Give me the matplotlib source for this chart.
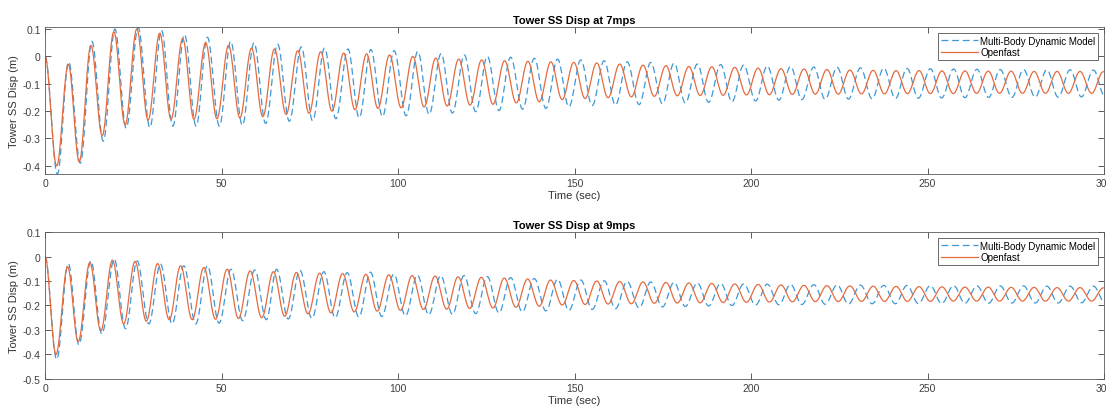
import numpy as np
import matplotlib
matplotlib.use('Agg')
import matplotlib.pyplot as plt

plt.rcParams['font.family'] = ['Liberation Sans', 'DejaVu Sans']

# ---- data: extrema (time s, displacement m) of each trace ----
# 7 mps, Openfast
of7_trough_t = [3.3, 9.7, 16.2, 22.7, 29.2, 35.7, 42.2, 48.7, 55.2, 61.7, 68.3, 74.8, 81.3, 87.8, 94.3, 100.9,
                107.4, 113.9, 120.4, 126.9, 133.5, 140.0, 146.5, 153.0, 159.5, 166.1, 172.6, 179.1, 185.6, 192.1,
                198.7, 205.2, 211.7, 218.2, 224.7, 231.3, 237.8, 244.3, 250.8, 257.3, 263.9, 270.4, 276.9, 283.4,
                289.9, 296.5]
of7_trough_v = [-0.400, -0.385, -0.290, -0.250, -0.233, -0.230, -0.230, -0.228, -0.225, -0.220, -0.212, -0.208,
                -0.200, -0.195, -0.190, -0.188, -0.185, -0.181, -0.178, -0.175, -0.170, -0.166, -0.158, -0.154,
                -0.151, -0.148, -0.146, -0.144, -0.143, -0.142, -0.141, -0.140, -0.139, -0.138, -0.138, -0.137,
                -0.137, -0.136, -0.136, -0.136, -0.135, -0.135, -0.135, -0.135, -0.135, -0.135]
of7_peak_t = [6.6, 13.0, 19.5, 26.0, 32.5, 39.0, 45.5, 52.0, 58.5, 65.0, 71.6, 78.1, 84.6, 91.1, 97.6, 104.2,
              110.7, 117.2, 123.7, 130.2, 136.8, 143.3, 149.8, 156.3, 162.8, 169.4, 175.9, 182.4, 188.9, 195.4,
              202.0, 208.5, 215.0, 221.5, 228.0, 234.6, 241.1, 247.6, 254.1, 260.6, 267.2, 273.7, 280.2, 286.7,
              293.2, 299.8]
of7_peak_v = [-0.030, 0.040, 0.090, 0.100, 0.085, 0.065, 0.050, 0.040, 0.030, 0.027, 0.021, 0.017, 0.012, 0.009,
              0.005, 0.000, -0.006, -0.010, -0.013, -0.016, -0.018, -0.020, -0.022, -0.024, -0.028, -0.032,
              -0.034, -0.037, -0.038, -0.040, -0.043, -0.045, -0.046, -0.048, -0.050, -0.051, -0.052, -0.052,
              -0.053, -0.053, -0.054, -0.054, -0.055, -0.055, -0.055, -0.056]

# 7 mps, Multi-Body Dynamic Model
mb7_trough_t = [3.5, 10.0, 16.5, 23.0, 29.7, 36.2, 42.8, 49.4, 55.9, 62.5, 69.2, 75.8, 82.4, 89.0, 95.6, 102.3,
                108.8, 115.4, 122.0, 128.6, 135.3, 141.9, 148.4, 155.0, 161.6, 168.3, 174.9, 181.4, 188.0, 194.6,
                201.3, 207.9, 214.4, 221.0, 227.6, 234.3, 240.9, 247.4, 254.0, 260.6, 267.3, 273.9, 280.5, 287.0,
                293.6, 300.3]
mb7_trough_v = [-0.430, -0.390, -0.310, -0.262, -0.260, -0.255, -0.255, -0.255, -0.252, -0.245, -0.237, -0.235,
                -0.228, -0.224, -0.220, -0.217, -0.212, -0.207, -0.202, -0.198, -0.193, -0.190, -0.184, -0.180,
                -0.178, -0.176, -0.173, -0.170, -0.168, -0.166, -0.163, -0.160, -0.158, -0.157, -0.156, -0.155,
                -0.154, -0.153, -0.152, -0.151, -0.150, -0.150, -0.149, -0.149, -0.148, -0.148]
mb7_peak_t = [6.7, 13.3, 19.8, 26.4, 33.0, 39.5, 46.0, 52.6, 59.2, 65.9, 72.6, 79.2, 85.8, 92.3, 98.9, 105.6,
              112.2, 118.8, 125.3, 131.9, 138.6, 145.2, 151.8, 158.4, 164.9, 171.6, 178.2, 184.8, 191.4, 197.9,
              204.6, 211.2, 217.8, 224.4, 231.0, 237.6, 244.2, 250.8, 257.4, 264.0, 270.6, 277.2, 283.8, 290.4,
              297.0, 303.6]
mb7_peak_v = [-0.020, 0.055, 0.100, 0.105, 0.095, 0.080, 0.070, 0.055, 0.050, 0.045, 0.035, 0.030, 0.027, 0.025,
              0.021, 0.018, 0.010, 0.005, 0.000, -0.003, -0.007, -0.010, -0.013, -0.016, -0.020, -0.022, -0.025,
              -0.028, -0.030, -0.032, -0.035, -0.037, -0.039, -0.040, -0.042, -0.043, -0.044, -0.045, -0.046,
              -0.047, -0.048, -0.048, -0.049, -0.049, -0.050, -0.050]

# 9 mps, Openfast
of9_trough_t = [3.1, 9.4, 15.8, 22.3, 28.7, 35.2, 41.7, 48.3, 54.8, 61.4, 67.9, 74.5, 81.0, 87.6, 94.1, 100.7,
                107.2, 113.8, 120.3, 126.9, 133.4, 140.0, 146.5, 153.0, 159.5, 166.1, 172.6, 179.1, 185.6, 192.1,
                198.7, 205.2, 211.7, 218.2, 224.7, 231.3, 237.8, 244.3, 250.8, 257.3, 263.9, 270.4, 276.9, 283.4,
                289.9, 296.5]
of9_trough_v = [-0.400, -0.347, -0.303, -0.275, -0.264, -0.258, -0.258, -0.256, -0.253, -0.250, -0.244, -0.234,
                -0.230, -0.226, -0.223, -0.220, -0.216, -0.215, -0.212, -0.210, -0.207, -0.203, -0.198, -0.196,
                -0.194, -0.193, -0.191, -0.190, -0.189, -0.188, -0.187, -0.186, -0.185, -0.184, -0.184, -0.183,
                -0.183, -0.183, -0.183, -0.182, -0.182, -0.182, -0.182, -0.182, -0.182, -0.182]
of9_peak_t = [6.4, 12.7, 19.1, 25.5, 31.9, 38.4, 45.0, 51.6, 58.1, 64.7, 71.2, 77.8, 84.3, 90.9, 97.4, 104.0,
              110.5, 117.0, 123.6, 130.1, 136.7, 143.2, 149.8, 156.3, 162.8, 169.4, 175.9, 182.4, 188.9, 195.4,
              202.0, 208.5, 215.0, 221.5, 228.0, 234.6, 241.1, 247.6, 254.1, 260.6, 267.2, 273.7, 280.2, 286.7,
              293.2, 299.8]
of9_peak_v = [-0.042, -0.025, -0.015, -0.020, -0.029, -0.038, -0.045, -0.052, -0.059, -0.062, -0.065, -0.068,
              -0.070, -0.073, -0.075, -0.078, -0.080, -0.083, -0.085, -0.088, -0.092, -0.096, -0.098, -0.100,
              -0.102, -0.104, -0.106, -0.108, -0.110, -0.112, -0.114, -0.116, -0.118, -0.119, -0.120, -0.121,
              -0.122, -0.123, -0.124, -0.125, -0.125, -0.126, -0.126, -0.127, -0.127, -0.128]

# 9 mps, Multi-Body Dynamic Model
mb9_trough_t = [3.3, 9.6, 16.1, 22.8, 29.4, 36.0, 42.7, 49.3, 56.0, 62.7, 68.9, 75.6, 82.2, 88.9, 95.4, 102.1,
                108.7, 115.4, 122.0, 128.6, 135.2, 141.9, 148.4, 155.0, 161.6, 168.3, 174.9, 181.4, 188.0, 194.6,
                201.3, 207.9, 214.4, 221.0, 227.6, 234.3, 240.9, 247.4, 254.0, 260.6, 267.3, 273.9, 280.5, 287.0,
                293.6, 300.3]
mb9_trough_v = [-0.420, -0.360, -0.316, -0.295, -0.275, -0.275, -0.275, -0.272, -0.262, -0.258, -0.255, -0.252,
                -0.250, -0.247, -0.245, -0.242, -0.238, -0.236, -0.233, -0.230, -0.226, -0.222, -0.220, -0.216,
                -0.213, -0.210, -0.206, -0.204, -0.202, -0.200, -0.198, -0.197, -0.196, -0.195, -0.194, -0.193,
                -0.193, -0.192, -0.192, -0.191, -0.191, -0.190, -0.190, -0.190, -0.189, -0.189]
mb9_peak_t = [6.6, 13.0, 19.6, 26.1, 32.7, 39.3, 46.0, 52.7, 59.4, 65.6, 72.2, 79.0, 85.6, 92.2, 98.8, 105.5,
              112.1, 118.7, 125.3, 131.9, 138.6, 145.2, 151.8, 158.4, 164.9, 171.6, 178.2, 184.8, 191.4, 197.9,
              204.6, 211.2, 217.8, 224.4, 231.0, 237.6, 244.2, 250.8, 257.4, 264.0, 270.6, 277.2, 283.8, 290.4,
              297.0, 303.6]
mb9_peak_v = [-0.029, -0.018, -0.011, -0.018, -0.031, -0.038, -0.038, -0.052, -0.055, -0.052, -0.056, -0.062,
              -0.066, -0.064, -0.072, -0.076, -0.078, -0.078, -0.082, -0.086, -0.090, -0.093, -0.096, -0.099,
              -0.102, -0.104, -0.106, -0.108, -0.110, -0.112, -0.113, -0.114, -0.115, -0.116, -0.117, -0.118,
              -0.118, -0.119, -0.119, -0.120, -0.120, -0.120, -0.121, -0.121, -0.121, -0.121]

titles = ['Tower SS Disp at 7mps', 'Tower SS Disp at 9mps']
ylims = [(-0.43, 0.107), (-0.5, 0.1)]
yticks = [[-0.4, -0.3, -0.2, -0.1, 0, 0.1], [-0.5, -0.4, -0.3, -0.2, -0.1, 0, 0.1]]
ytick_labels = [['-0.4', '-0.3', '-0.2', '-0.1', '0', '0.1'], ['-0.5', '-0.4', '-0.3', '-0.2', '-0.1', '0', '0.1']]
xticks = [0, 50, 100, 150, 200, 250, 300]


def trace(trough_t, trough_v, peak_t, peak_v, n=30):
    # join the extrema (starting from rest at 0) with smooth half-cosine segments
    te = np.r_[0.0, np.ravel(np.column_stack([trough_t, peak_t]))]
    ve = np.r_[0.0, np.ravel(np.column_stack([trough_v, peak_v]))]
    s = np.linspace(0, 1, n, endpoint=False)
    tt = (te[:-1, None] + np.diff(te)[:, None] * s).ravel()
    vv = (ve[:-1, None] + np.diff(ve)[:, None] * (1 - np.cos(np.pi * s)) / 2).ravel()
    return np.r_[tt, te[-1]], np.r_[vv, ve[-1]]


blue = '#3d98d6'
orange = '#e56b3f'
axcol = '#5a5a5a'

fig = plt.figure(figsize=(11.06, 4.10), dpi=100)
positions = [[0.0407, 0.573, 0.9575, 0.3585], [0.0407, 0.0732, 0.9575, 0.3585]]
series = [((mb7_trough_t, mb7_trough_v, mb7_peak_t, mb7_peak_v), (of7_trough_t, of7_trough_v, of7_peak_t, of7_peak_v)),
          ((mb9_trough_t, mb9_trough_v, mb9_peak_t, mb9_peak_v), (of9_trough_t, of9_trough_v, of9_peak_t, of9_peak_v))]

for i in range(2):
    ax = fig.add_axes(positions[i])
    tm, ym = trace(*series[i][0])
    to, yo = trace(*series[i][1])
    ax.plot(tm, ym, color=blue, lw=0.9, dashes=(5.5, 3.0), label='Multi-Body Dynamic Model')
    ax.plot(to, yo, color=orange, lw=0.9, label='Openfast')
    ax.set_xlim(0, 300)
    ax.set_ylim(*ylims[i])
    ax.set_xticks(xticks)
    ax.set_yticks(yticks[i])
    ax.set_yticklabels(ytick_labels[i])
    ax.tick_params(direction='in', top=True, right=True, labelsize=7.5, colors='#404040',
                   length=4, width=0.6, pad=3)
    for sp in ax.spines.values():
        sp.set_color(axcol)
        sp.set_linewidth(0.6)
    ax.set_title(titles[i], fontsize=8, fontweight='bold', pad=3)
    ax.set_xlabel('Time (sec)', fontsize=8, color='#333333', labelpad=1)
    ax.set_ylabel('Tower SS Disp (m)', fontsize=8, color='#333333', labelpad=3)
    leg = ax.legend(loc='upper right', fontsize=7, frameon=True, fancybox=False,
                    borderaxespad=0.6, handlelength=3.8, handletextpad=0.2,
                    borderpad=0.3, labelspacing=0.15)
    leg.get_frame().set_edgecolor('#262626')
    leg.get_frame().set_linewidth(0.6)

plt.savefig('out.png', dpi=100)
